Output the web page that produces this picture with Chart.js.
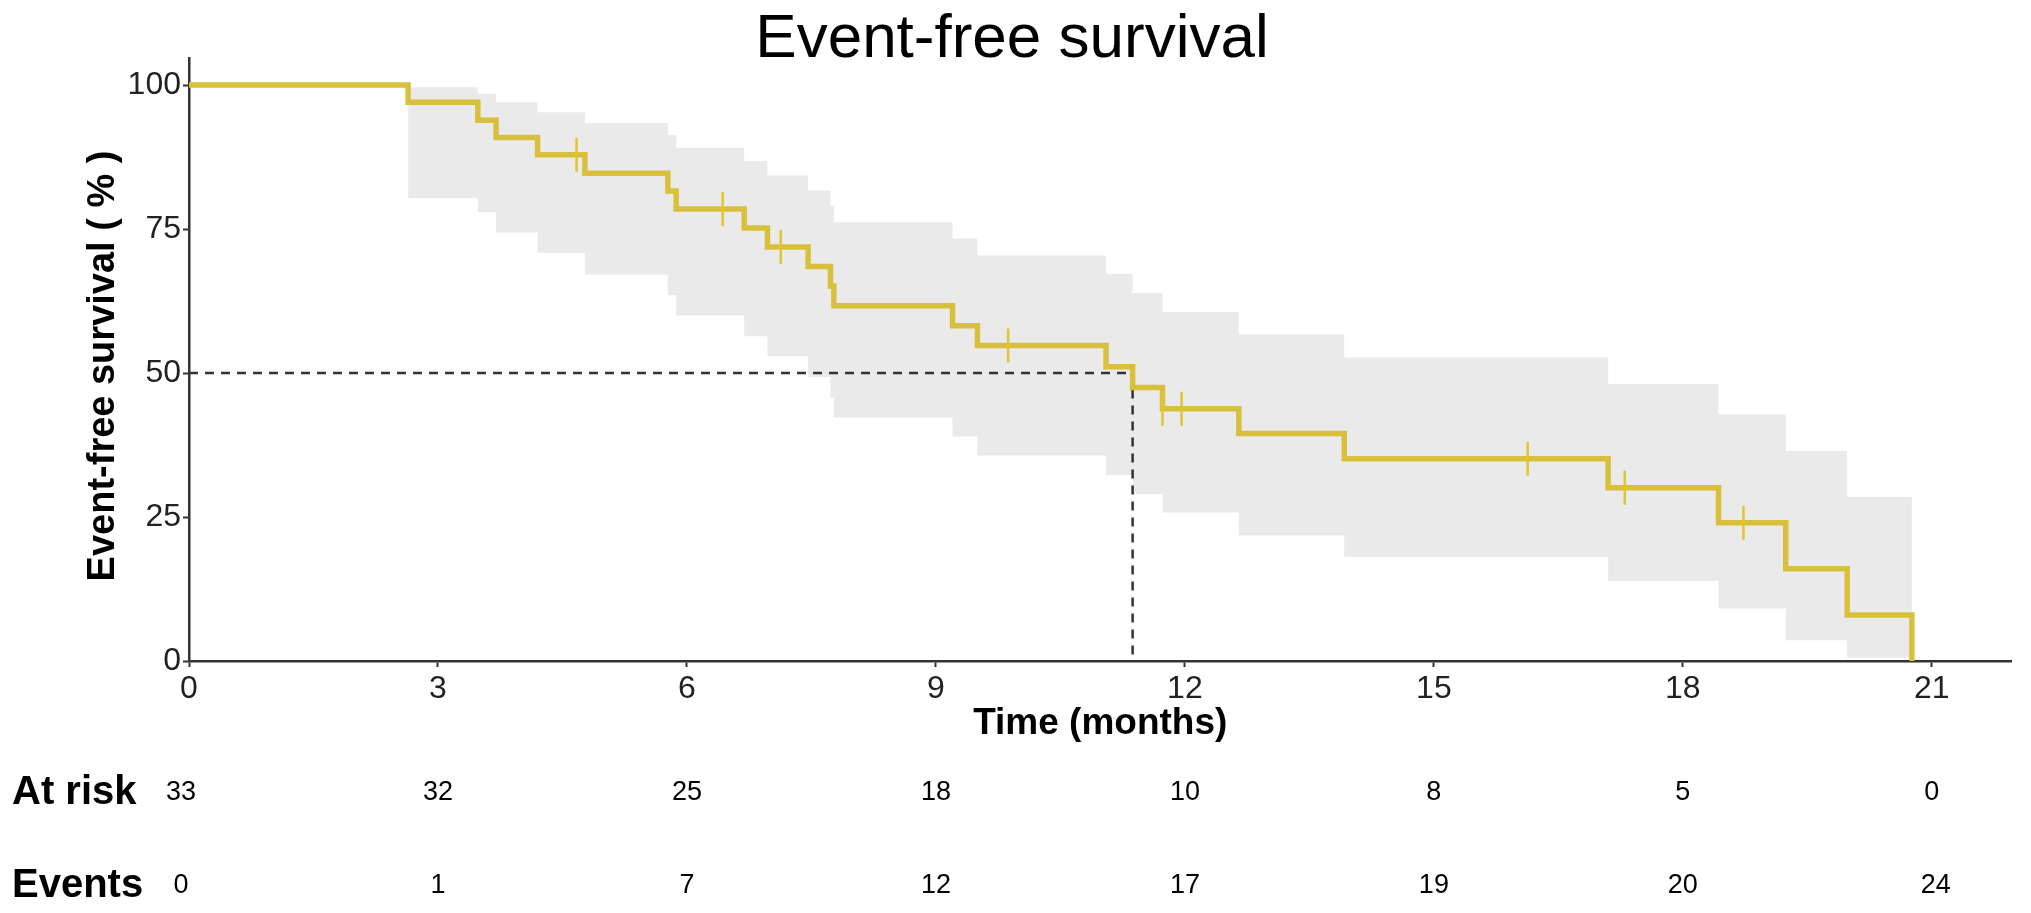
<!DOCTYPE html>
<html>
<head>
<meta charset="utf-8">
<script src="https://cdn.jsdelivr.net/npm/chart.js@4/dist/chart.umd.min.js"></script>
<style>
  html, body { margin: 0; padding: 0; background: #ffffff; }
  #wrap { width: 2031px; height: 913px; }
</style>
</head>
<body>
<div id="wrap"><canvas id="c" width="2031" height="913"></canvas></div>
<script>
// ---------- data ----------
const chartTitle = 'Event-free survival';
const xAxisTitle = 'Time (months)';
const yAxisTitle = 'Event-free survival ( % )';

// Kaplan-Meier step curve
const kmTimes = [0, 2.64, 3.48, 3.70, 4.20, 4.77, 5.77, 5.87, 6.69, 6.97, 7.46, 7.73, 7.77, 9.20, 9.50, 11.05, 11.37, 11.73, 12.65, 13.92, 17.10, 18.43, 19.24, 19.98, 20.76];
const kmSurv  = [100, 97.0, 93.9, 90.9, 87.9, 84.7, 81.6, 78.5, 75.2, 71.9, 68.5, 65.1, 61.7, 58.2, 54.8, 51.1, 47.5, 43.8, 39.5, 35.1, 30.1, 24.0, 16.0, 8.0, 0];

// confidence band
const bandTimes = [2.64, 3.48, 3.70, 4.20, 4.77, 5.77, 5.87, 6.69, 6.97, 7.46, 7.73, 7.77, 9.20, 9.50, 11.05, 11.37, 11.73, 12.65, 13.92, 17.10, 18.43, 19.24, 19.98, 20.76];
const bandUpper = [99.6, 98.5, 97.0, 95.3, 93.4, 91.3, 89.1, 86.8, 84.3, 81.7, 79.0, 76.2, 73.3, 70.4, 67.2, 63.9, 60.6, 56.7, 52.7, 48.1, 42.8, 36.5, 28.5, 28.5];
const bandLower = [80.4, 77.9, 74.4, 70.9, 67.1, 63.5, 60.0, 56.4, 52.9, 49.3, 45.7, 42.3, 39.0, 35.7, 32.3, 29.0, 25.8, 21.8, 18.1, 13.9, 9.1, 3.6, 0.6, 0.6];

// censor marks
const censorTimes = [4.67, 6.43, 7.13, 9.87, 11.73, 11.96, 16.13, 17.30, 18.73];
const censorSurv  = [87.9, 78.5, 71.9, 54.8, 43.8, 43.8, 35.1, 30.1, 24.0];

// median survival guide
const medianTime = 11.37;
const medianSurv = 50;

// axes
const xTicks = [0, 3, 6, 9, 12, 15, 18, 21];
const yTicks = [0, 25, 50, 75, 100];

// risk table
const riskTimes = [0, 3, 6, 9, 12, 15, 18, 21];
const atRisk    = [33, 32, 25, 18, 10, 8, 5, 0];
const eventsCum = [0, 1, 7, 12, 17, 19, 20, 24];
const riskRowLabels = ['At risk', 'Events'];

// ---------- styling ----------
const FONT = '"Liberation Sans", Arial, Helvetica, sans-serif';
const lineColor = '#D8C03C';
const censorColor = '#E2C430';
const bandColor = '#EAEAEA';
const axisColor = '#333333';

const pts = (xs, ys) => xs.map((x, i) => ({ x: x, y: ys[i] }));

const bgPlugin = {
  id: 'bg',
  beforeDraw(chart) {
    const ctx = chart.ctx;
    ctx.save();
    ctx.fillStyle = '#ffffff';
    ctx.fillRect(0, 0, chart.width, chart.height);
    ctx.restore();
  }
};

const textPlugin = {
  id: 'texts',
  afterDraw(chart) {
    const ctx = chart.ctx;
    const xs = chart.scales.x;
    const ca = chart.chartArea;
    ctx.save();
    ctx.fillStyle = '#000000';
    // title
    ctx.textAlign = 'center';
    ctx.textBaseline = 'alphabetic';
    ctx.font = '62px ' + FONT;
    ctx.fillText(chartTitle, 1012, 57);
    // x axis title
    ctx.textBaseline = 'middle';
    ctx.font = 'bold 37px ' + FONT;
    ctx.fillText(xAxisTitle, (ca.left + ca.right) / 2, 724);
    // y axis title
    ctx.save();
    ctx.translate(104, 366);
    ctx.rotate(-Math.PI / 2);
    ctx.font = 'bold 38px ' + FONT;
    ctx.fillText(yAxisTitle, 0, 0);
    ctx.restore();
    // risk table
    const rowY = [793, 886];
    ctx.textAlign = 'left';
    ctx.font = 'bold 40px ' + FONT;
    ctx.fillText(riskRowLabels[0], 12, rowY[0]);
    ctx.fillText(riskRowLabels[1], 12, rowY[1]);
    ctx.textAlign = 'center';
    ctx.font = '27px ' + FONT;
    riskTimes.forEach((t, i) => {
      let px = xs.getPixelForValue(t);
      if (i === 0) px -= 8;
      ctx.fillText(String(atRisk[i]), px, rowY[0]);
      ctx.fillText(String(eventsCum[i]), px + (i === riskTimes.length - 1 ? 4 : 0), rowY[1]);
    });
    ctx.restore();
  }
};

new Chart(document.getElementById('c'), {
  type: 'line',
  data: {
    datasets: [
      {
        label: 'upper',
        data: pts(bandTimes, bandUpper),
        stepped: 'before',
        borderWidth: 0,
        borderColor: 'rgba(0,0,0,0)',
        pointRadius: 0,
        fill: false,
        order: 5
      },
      {
        label: 'lower',
        data: pts(bandTimes, bandLower),
        stepped: 'before',
        borderWidth: 0,
        borderColor: 'rgba(0,0,0,0)',
        backgroundColor: bandColor,
        pointRadius: 0,
        fill: '-1',
        order: 4
      },
      {
        label: 'median',
        data: [{ x: 0, y: medianSurv }, { x: medianTime, y: medianSurv }, { x: medianTime, y: 0 }],
        borderColor: axisColor,
        borderWidth: 2.5,
        borderDash: [9, 7],
        pointRadius: 0,
        fill: false,
        order: 3
      },
      {
        label: 'km',
        data: pts(kmTimes, kmSurv),
        stepped: 'before',
        borderColor: lineColor,
        borderWidth: 5.5,
        pointRadius: 0,
        fill: false,
        order: 2
      },
      {
        label: 'censor',
        type: 'scatter',
        data: pts(censorTimes, censorSurv),
        pointStyle: 'line',
        pointRotation: 90,
        pointRadius: 17,
        pointBorderWidth: 2.5,
        pointBorderColor: censorColor,
        borderColor: censorColor,
        showLine: false,
        order: 1
      }
    ]
  },
  options: {
    responsive: false,
    animation: false,
    devicePixelRatio: 1,
    layout: { padding: { left: 89, right: 17, top: 58, bottom: 132 } },
    plugins: {
      legend: { display: false },
      tooltip: { enabled: false },
      title: { display: false }
    },
    scales: {
      x: {
        type: 'linear',
        min: 0,
        max: 21.96,
        afterFit: s => { s.height = 120; },
        afterBuildTicks: s => { s.ticks = xTicks.map(v => ({ value: v })); },
        ticks: {
          font: { size: 32, family: FONT },
          color: '#222222',
          padding: 3,
          maxRotation: 0,
          autoSkip: false
        },
        grid: { drawOnChartArea: false, drawTicks: true, tickLength: 6, tickWidth: 2, tickColor: axisColor },
        border: { display: true, color: axisColor, width: 2.5 }
      },
      y: {
        type: 'linear',
        min: 0,
        max: 104.7,
        afterFit: s => { s.width = 100; },
        afterBuildTicks: s => { s.ticks = yTicks.map(v => ({ value: v })); },
        ticks: {
          font: { size: 32, family: FONT },
          color: '#222222',
          padding: 2,
          autoSkip: false
        },
        grid: { drawOnChartArea: false, drawTicks: true, tickLength: 6, tickWidth: 2, tickColor: axisColor },
        border: { display: true, color: axisColor, width: 2.5 }
      }
    }
  },
  plugins: [bgPlugin, textPlugin]
});
</script>
</body>
</html>
